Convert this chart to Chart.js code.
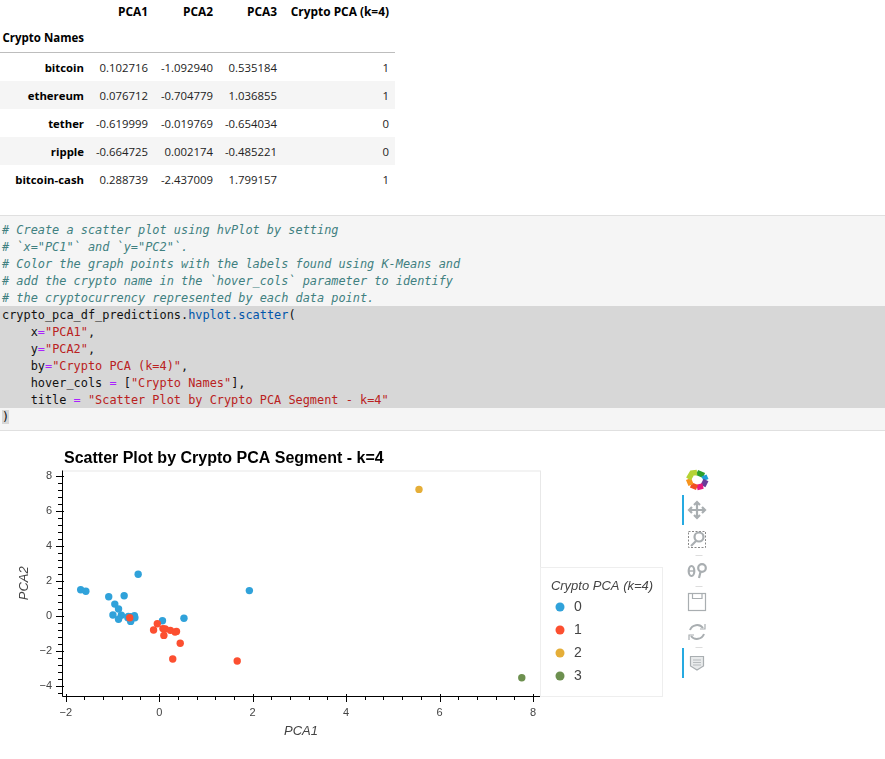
<!DOCTYPE html>
<html>
<head>
<meta charset="utf-8">
<script src="https://cdn.jsdelivr.net/npm/chart.js@4/dist/chart.umd.min.js"></script>
<style>
  html, body { margin: 0; padding: 0; background: #fff; }
  body { position: relative; width: 885px; height: 759px; overflow: hidden; }
  #frame { position: absolute; left: 0; top: 0; width: 395px; border-collapse: collapse; table-layout: fixed;
    font: 11.35px "Open Sans", "Noto Sans", sans-serif; color: #000; }
  #frame th, #frame td { padding: 0 6px 0 0; height: 28px; text-align: right; white-space: nowrap; box-sizing: border-box; }
  #frame td { color: #222; }
  #frame thead tr:first-child th { height: 22px; font-size: 11.9px; }
  #frame thead tr:last-child th { height: 30px; padding-top: 2px; font-size: 11.5px; border-bottom: 1px solid #bdbdbd; }
  #frame tbody tr:first-child th, #frame tbody tr:first-child td { height: 29px; padding-top: 1px; }
  #frame tbody tr:nth-child(even) { background: #f5f5f5; }
  #code { position: absolute; left: 0; top: 215px; width: 885px; height: 216px; box-sizing: border-box;
    background: #f5f5f5; border-top: 1px solid #e0e0e0; border-bottom: 1px solid #e0e0e0; }
  #code pre { margin: 0; position: absolute; left: 0; top: 4.5px; width: 100%;
    font: 11.9px/19px "DejaVu Sans Mono", monospace; color: #111; }
  #code div.l { padding-left: 2px; height: 17px; }
  #code div.h { background: #d7d7d7; }
  .c { color: #408080; font-style: italic; }
  .s { color: #ba2121; }
  .o { color: #aa22ff; }
  .p { color: #0055aa; }
  .m { background: #d7d7d7; }
  #chartBox { position: absolute; left: 0; top: 440px; width: 885px; height: 319px; }
  #tools { position: absolute; left: 0; top: 0; pointer-events: none; }
</style>
</head>
<body>
<table id="frame"><colgroup><col style="width:90px"><col style="width:64px"><col style="width:65px"><col style="width:64px"><col style="width:112px"></colgroup><thead></thead><tbody></tbody></table>

<div id="code"><pre><div class="l c"># Create a scatter plot using hvPlot by setting</div><div class="l c"># `x="PC1"` and `y="PC2"`.</div><div class="l c"># Color the graph points with the labels found using K-Means and</div><div class="l c"># add the crypto name in the `hover_cols` parameter to identify</div><div class="l c"># the cryptocurrency represented by each data point.</div><div class="l h">crypto_pca_df_predictions.<span class="p">hvplot.scatter</span>(</div><div class="l h">    x<span class="o">=</span><span class="s">"PCA1"</span>,</div><div class="l h">    y<span class="o">=</span><span class="s">"PCA2"</span>,</div><div class="l h">    by<span class="o">=</span><span class="s">"Crypto PCA (k=4)"</span>,</div><div class="l h">    hover_cols <span class="o">=</span> [<span class="s">"Crypto Names"</span>],</div><div class="l h">    title <span class="o">=</span> <span class="s">"Scatter Plot by Crypto PCA Segment - k=4"</span></div><div class="l"><span class="m">)</span></div></pre></div>

<div id="chartBox"><canvas id="scatter" width="885" height="319"></canvas></div>

<svg id="tools" width="885" height="759" fill="none" stroke="#a9aeb1">
  <rect x="682" y="495" width="2" height="30" fill="#26aae1" stroke="none"/>
  <rect x="682" y="648" width="2" height="30" fill="#26aae1" stroke="none"/>
  <g stroke-width="5.5" stroke-linecap="butt">
    <path d="M697 472.5 L704 475.5" stroke="#2ca02c"/>
    <path d="M704 475.5 L706 480" stroke="#1f9fd8"/>
    <path d="M706 480 L703 486" stroke="#6a3d9a"/>
    <path d="M703 486 L697 487.5" stroke="#e6197f"/>
    <path d="M697 487.5 L691 485" stroke="#f04e23"/>
    <path d="M691 485 L688.5 479" stroke="#f7941d"/>
    <path d="M688.5 479 L692 473 L697 472.5" stroke="#b5d334"/>
  </g>
  <g stroke-width="2.2">
    <path d="M697 503 V517 M690 510 H704"/>
    <path d="M694 505 L697 502 L700 505 M694 515 L697 518 L700 515 M692 507 L689 510 L692 513 M702 507 L705 510 L702 513"/>
    <rect x="688.5" y="531.5" width="17" height="16" stroke-width="1" stroke-dasharray="2 1.5" stroke="#888"/>
    <circle cx="699" cy="537" r="4.5" fill="#fff"/>
    <path d="M696 541 L691 546"/>
    <ellipse cx="691.5" cy="571" rx="2.8" ry="5"/>
    <path d="M689 571 H694" stroke-width="1.4"/>
    <circle cx="702" cy="568" r="3.8"/>
    <path d="M700.5 572 L699 578"/>
  </g>
  <rect x="688.5" y="593.5" width="17" height="17" stroke-width="1.2"/>
  <path d="M692.5 593.5 V598.5 H702 V593.5" stroke-width="1.2"/>
  <g stroke-width="2">
    <path d="M690 630 A7.5 7.5 0 0 1 703 628"/>
    <path d="M704 634 A7.5 7.5 0 0 1 691 636"/>
    <path d="M700 629 H705 V624 M694 635 H689 V640" stroke-width="1.2"/>
  </g>
  <path d="M690.5 656.5 H703.5 V666 L697 670 L690.5 666 Z" fill="#e8eaeb" stroke-width="1.2"/>
  <path d="M693 660 H701 M693 662.5 H701 M693 665 H701" stroke-width="0.8"/>
  <path d="M695.5 555.5 H702.5 M695.5 586.5 H702.5 M695.5 647.5 H702.5" stroke="#ddd"/>
</svg>

<script>
// table above the code cell
const tableCols = ["PCA1", "PCA2", "PCA3", "Crypto PCA (k=4)"];
const tableIndexName = "Crypto Names";
const coinNames = ["bitcoin", "ethereum", "tether", "ripple", "bitcoin-cash"];
const coinPca1 = ["0.102716", "0.076712", "-0.619999", "-0.664725", "0.288739"];
const coinPca2 = ["-1.092940", "-0.704779", "-0.019769", "0.002174", "-2.437009"];
const coinPca3 = ["0.535184", "1.036855", "-0.654034", "-0.485221", "1.799157"];
const coinSegment = ["1", "1", "0", "0", "1"];

// scatter values, one pair of lists per k-means segment
const seg0x = [-0.45, -1.68, -1.57, -1.08, -0.75, -0.95, -0.87, 1.93, -0.99, -0.81, -0.87, -0.67, -0.53, -0.52, -0.61, 0.07, 0.53, -0.62, -0.66];
const seg0y = [2.40, 1.52, 1.43, 1.12, 1.18, 0.70, 0.42, 1.47, 0.08, 0.06, -0.17, -0.08, 0.04, -0.08, -0.29, -0.25, -0.11, -0.02, 0.00];
const seg1x = [-0.63, -0.04, -0.12, 0.08, 0.13, 0.24, 0.34, 0.37, 0.10, 0.45, 0.29, 1.67];
const seg1y = [-0.08, -0.42, -0.78, -0.70, -0.72, -0.80, -0.90, -0.86, -1.09, -1.54, -2.44, -2.55];
const seg2x = [5.56];
const seg2y = [7.25];
const seg3x = [7.76];
const seg3y = [-3.51];

const segNames = ["0", "1", "2", "3"];
const segColors = ["#30a2da", "#fc4f30", "#e5ae38", "#6d904f"];
const chartTitle = "Scatter Plot by Crypto PCA Segment - k=4";

document.querySelector("#frame thead").innerHTML =
  "<tr><th></th>" + tableCols.map(c => "<th>" + c + "</th>").join("") + "</tr>" +
  "<tr><th>" + tableIndexName + "</th><th></th><th></th><th></th><th></th></tr>";
document.querySelector("#frame tbody").innerHTML = coinNames.map((n, i) =>
  "<tr><th>" + n + "</th><td>" + coinPca1[i] + "</td><td>" + coinPca2[i] + "</td><td>" +
  coinPca3[i] + "</td><td>" + coinSegment[i] + "</td></tr>").join("");

const toPoints = (xs, ys) => xs.map((x, i) => ({ x: x, y: ys[i] }));
const segPoints = [toPoints(seg0x, seg0y), toPoints(seg1x, seg1y), toPoints(seg2x, seg2y), toPoints(seg3x, seg3y)];

const isMajor = v => Math.abs(v / 2 - Math.round(v / 2)) < 1e-6;
const tickLabel = v => isMajor(v) ? String(Math.round(v)).replace("-", "\u2212") : "";

// bokeh style frame and ticks, Chart.js only has one tick length per axis
const bokehAxes = {
  id: "bokehAxes",
  afterLayout(chart) {
    const leg = chart.legend;
    leg.left = 544;
    leg.width = 116;
    leg.right = 660;
    leg.top = 127;
    leg.bottom = chart.chartArea.bottom - 4;
    chart.titleBlock.left = 64;
  },
  beforeDatasetsDraw(chart) {
    const { ctx, chartArea: a, scales } = chart;
    ctx.save();
    ctx.strokeStyle = "#e8e8e8";
    ctx.lineWidth = 1;
    ctx.strokeRect(a.left + 0.5, a.top + 0.5, a.right - a.left, a.bottom - a.top);
    ctx.strokeStyle = "#eeeeee";
    ctx.strokeRect(a.right + 0.5, 127.5, 122, a.bottom - 127);
    ctx.strokeStyle = "#000";
    ctx.beginPath();
    scales.x.ticks.forEach(t => {
      const p = Math.round(scales.x.getPixelForValue(t.value)) + 0.5;
      ctx.moveTo(p, a.bottom + (isMajor(t.value) ? 6 : 4));
      ctx.lineTo(p, a.bottom - (isMajor(t.value) ? 2 : 0));
    });
    scales.y.ticks.forEach(t => {
      const p = Math.round(scales.y.getPixelForValue(t.value)) + 0.5;
      ctx.moveTo(a.left - (isMajor(t.value) ? 6 : 4), p);
      ctx.lineTo(a.left + (isMajor(t.value) ? 2 : 0), p);
    });
    ctx.moveTo(a.left + 0.5, a.top);
    ctx.lineTo(a.left + 0.5, a.bottom + 0.5);
    ctx.lineTo(a.right, a.bottom + 0.5);
    ctx.stroke();
    ctx.restore();
  }
};

new Chart(document.getElementById("scatter").getContext("2d"), {
  type: "scatter",
  data: {
    datasets: segNames.map((name, i) => ({
      label: name,
      data: segPoints[i],
      backgroundColor: segColors[i],
      borderColor: segColors[i],
      pointRadius: 3.7,
      pointBorderWidth: 0,
      order: segNames.length - i // later segments paint on top
    }))
  },
  plugins: [bokehAxes],
  options: {
    responsive: false,
    animation: false,
    events: [],
    layout: { padding: { left: 0, top: 0, bottom: 0, right: 315 } },
    scales: {
      x: {
        type: "linear",
        min: -2.08,
        max: 8.15,
        afterFit(s) { s.height = 63; },
        grid: { display: false, drawTicks: false },
        border: { display: false },
        ticks: { stepSize: 0.4, includeBounds: false, autoSkip: false, maxRotation: 0, padding: 10,
          color: "#444", font: { family: "Liberation Sans", size: 11 }, callback: tickLabel },
        title: { display: true, text: "PCA1", color: "#444", padding: { top: 3, bottom: 20 },
          font: { family: "Liberation Sans", size: 13, style: "italic" } }
      },
      y: {
        type: "linear",
        min: -4.55,
        max: 8.33,
        afterFit(s) { s.width = 62; },
        grid: { display: false, drawTicks: false },
        border: { display: false },
        ticks: { stepSize: 0.4, includeBounds: false, autoSkip: false, padding: 10,
          color: "#444", font: { family: "Liberation Sans", size: 11 }, callback: tickLabel },
        title: { display: true, text: "PCA2", color: "#444", padding: { top: 17, bottom: 0 },
          font: { family: "Liberation Sans", size: 13, style: "italic" } }
      }
    },
    plugins: {
      tooltip: { enabled: false },
      title: {
        display: true, text: chartTitle, align: "start", fullSize: false, color: "#000",
        padding: { top: 9, bottom: 2.3 },
        font: { family: "Liberation Sans", size: 16, weight: "bold" }
      },
      legend: {
        position: "right", align: "end", fullSize: false, maxWidth: 30,
        title: { display: true, text: "Crypto PCA (k=4)", position: "center", color: "#444", padding: { top: 0, bottom: -4 },
          font: { family: "Liberation Sans", size: 13, style: "italic" } },
        labels: { usePointStyle: true, boxHeight: 6.4, padding: 9, color: "#444",
          sort: (a, b) => a.datasetIndex - b.datasetIndex,
          font: { family: "Liberation Sans", size: 14 } }
      }
    }
  }
});
</script>
</body>
</html>
